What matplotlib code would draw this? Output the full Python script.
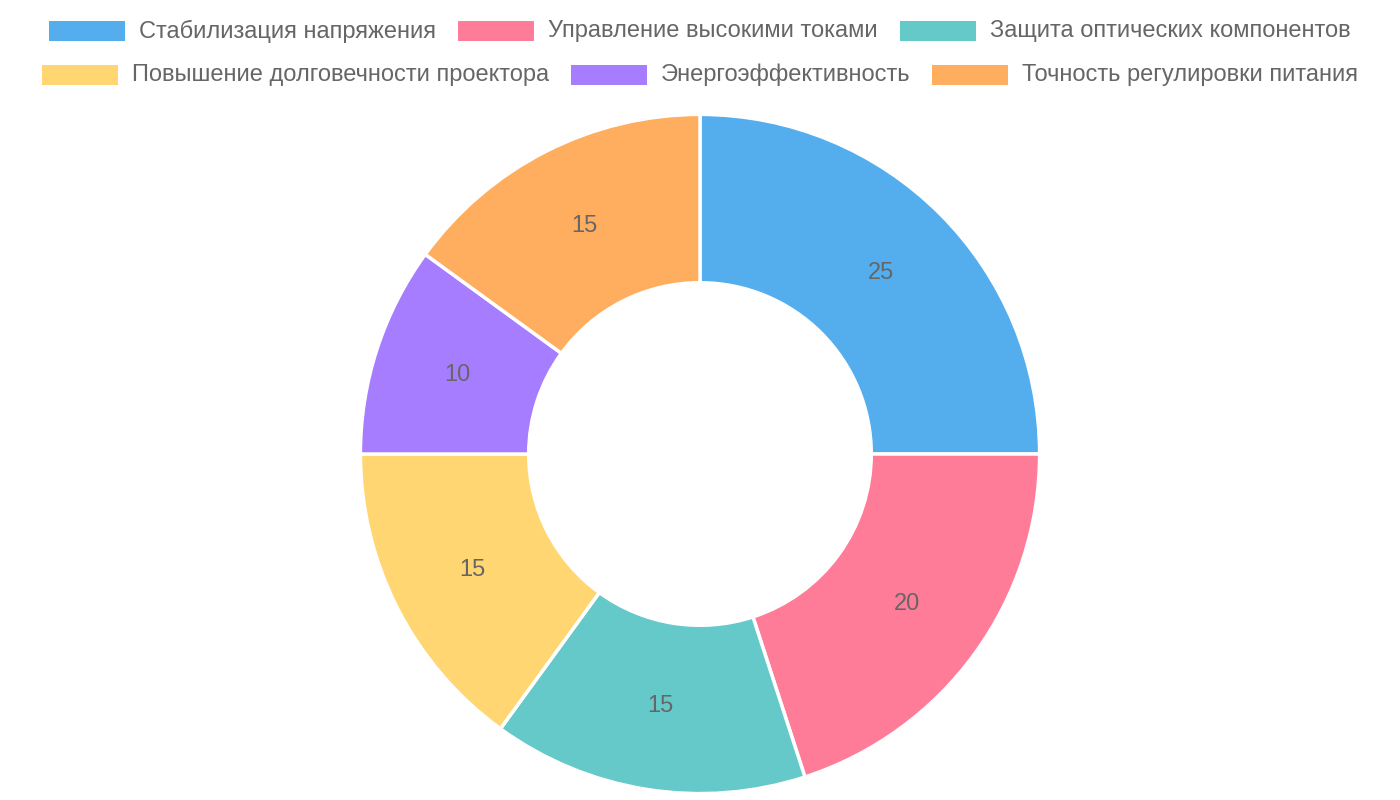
import matplotlib
matplotlib.use("Agg")
import matplotlib.pyplot as plt
from matplotlib.patches import Rectangle
import numpy as np

labels = ["Стабилизация напряжения", "Управление высокими токами", "Защита оптических компонентов",
          "Повышение долговечности проектора", "Энергоэффективность", "Точность регулировки питания"]
values = [25, 20, 15, 15, 10, 15]
colors = ["#54aeee", "#ff7c99", "#66c9c9", "#ffd672", "#a77dff", "#ffad5e"]
rows = [[0, 1, 2], [3, 4, 5]]

plt.rcParams["font.family"] = ["Liberation Sans", "DejaVu Sans"]
W, H = 1400, 800
fig = plt.figure(figsize=(14, 8), dpi=100)

# ── Donut ──────────────────────────────────────────────
cx, cy, R = 700, 454, 343
ax = fig.add_axes([(cx - R) / W, 1 - (cy + R) / H, 2 * R / W, 2 * R / H])
wedges, _ = ax.pie(values, colors=colors, startangle=90, counterclock=False,
                   radius=1, wedgeprops=dict(width=1 - 173 / R, edgecolor="white", linewidth=2.5))
ax.set_xlim(-1.01, 1.01)
ax.set_ylim(-1.01, 1.01)
ax.set_aspect("equal")
ax.axis("off")

mid_r = (1 + 173 / R) / 2
for w, v in zip(wedges, values):
    a = np.deg2rad((w.theta1 + w.theta2) / 2)
    ax.text(mid_r * np.cos(a), mid_r * np.sin(a), str(v), ha="center", va="center",
            fontsize=17, color="#666666")

# ── Legend (centered rows, chart.js style) ─────────────
renderer = fig.canvas.get_renderer()
box_w, box_h, gap, item_gap = 76, 20, 14, 22
for row, ry in zip(rows, [31, 75]):
    widths = []
    for i in row:
        t = fig.text(0, 0, labels[i], fontsize=17)
        widths.append(t.get_window_extent(renderer).width)
        t.remove()
    total = sum(box_w + gap + tw for tw in widths) + item_gap * (len(row) - 1)
    x = (W - total) / 2
    for i, tw in zip(row, widths):
        fig.patches.append(Rectangle((x / W, 1 - (ry + box_h / 2) / H), box_w / W, box_h / H,
                                     transform=fig.transFigure, facecolor=colors[i], edgecolor="none"))
        fig.text((x + box_w + gap) / W, 1 - ry / H, labels[i], fontsize=17, color="#666666",
                 ha="left", va="center")
        x += box_w + gap + tw + item_gap

fig.savefig("out.png", dpi=100)
